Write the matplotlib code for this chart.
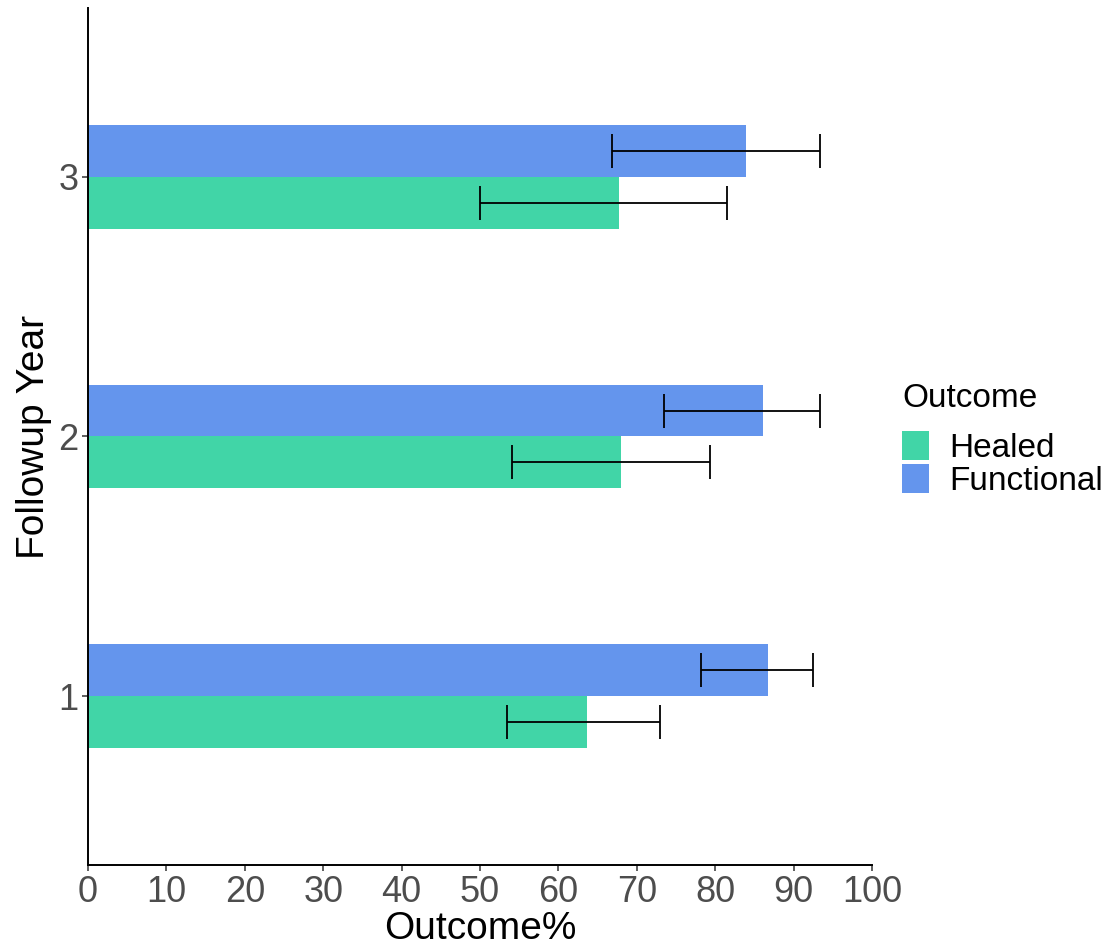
import numpy as np
import matplotlib
matplotlib.use("Agg")
import matplotlib.pyplot as plt
from matplotlib.patches import Patch

plt.rcParams['font.family'] = ['Liberation Sans', 'DejaVu Sans']

# data
years = [1, 2, 3]
healed = [63.7, 68.0, 67.7]
healed_lo = [53.4, 54.1, 50.0]
healed_hi = [72.9, 79.3, 81.5]
functional = [86.8, 86.1, 83.9]
functional_lo = [78.2, 73.5, 66.9]
functional_hi = [92.5, 93.4, 93.4]

col_healed = "#41D5A7"
col_func = "#6495ED"

fig = plt.figure(figsize=(11.07, 9.49), dpi=100)
ax = fig.add_axes([0.0795, 0.0885, 0.7082, 0.9031])

y = np.array(years, dtype=float)
h = 0.2
ax.barh(y - h / 2, healed, height=h, color=col_healed, label="Healed")
ax.barh(y + h / 2, functional, height=h, color=col_func, label="Functional")

# error bars
err_h = [np.array(healed) - np.array(healed_lo), np.array(healed_hi) - np.array(healed)]
err_f = [np.array(functional) - np.array(functional_lo), np.array(functional_hi) - np.array(functional)]
ax.errorbar(healed, y - h / 2, xerr=err_h, fmt="none", ecolor="black",
            elinewidth=1.3, capsize=12, capthick=1.3)
ax.errorbar(functional, y + h / 2, xerr=err_f, fmt="none", ecolor="black",
            elinewidth=1.3, capsize=12, capthick=1.3)

ax.set_xlim(0, 100)
ax.set_ylim(0.35, 3.65)
ax.set_xticks(range(0, 101, 10))
ax.set_yticks(years)
ax.set_yticklabels([str(v) for v in years])

for s in ["top", "right"]:
    ax.spines[s].set_visible(False)
for s in ["left", "bottom"]:
    ax.spines[s].set_linewidth(1.4)
    ax.spines[s].set_color("black")

ax.tick_params(axis="both", labelsize=26, labelcolor="#4D4D4D", color="#333333",
               length=4, width=1.1, pad=3)

ax.set_xlabel("Outcome%", fontsize=28, color="black", labelpad=1)
ax.set_ylabel("Followup Year", fontsize=28, color="black", labelpad=4)

handles = [Patch(facecolor=col_healed, edgecolor="none", label="Healed"),
           Patch(facecolor=col_func, edgecolor="none", label="Functional")]
leg = fig.legend(handles=handles, title="Outcome", loc="center left",
                 bbox_to_anchor=(0.815, 0.536), frameon=False, fontsize=24,
                 title_fontsize=24, handlelength=0.8, handleheight=0.97,
                 handletextpad=0.6, labelspacing=0.0, borderaxespad=0,
                 borderpad=0)
leg._legend_box.align = "left"
leg._legend_box.sep = 12

fig.savefig("out.png", dpi=100)
